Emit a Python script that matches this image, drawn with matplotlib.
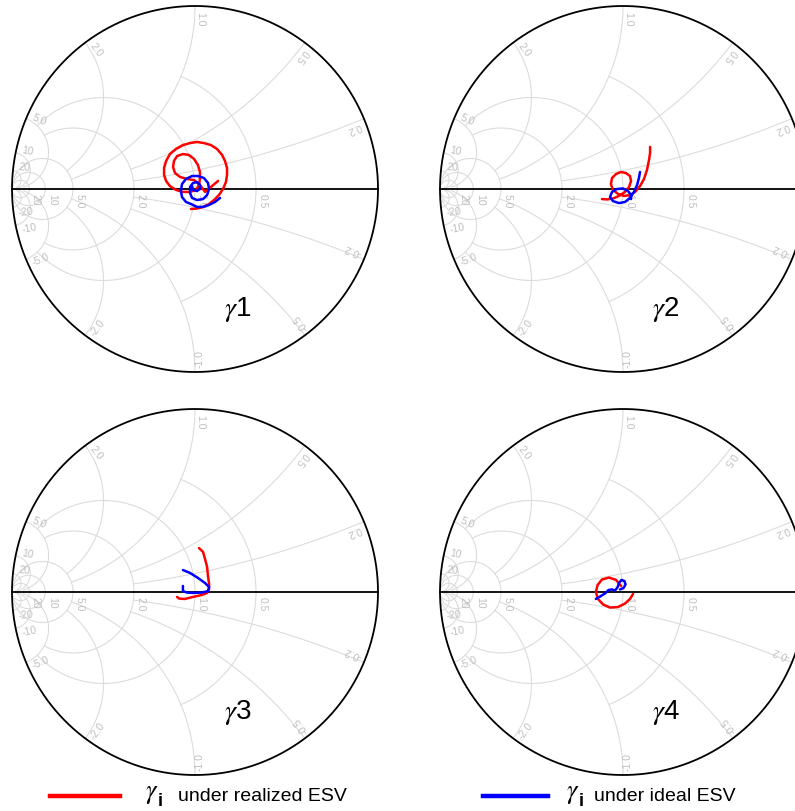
import numpy as np
import matplotlib
matplotlib.use("Agg")
import matplotlib.pyplot as plt
from matplotlib.lines import Line2D

plt.rcParams["font.family"] = ["Liberation Sans", "DejaVu Sans"]
plt.rcParams["mathtext.fontset"] = "stix"

# ---- Smith chart grid (normalised admittance values) ----
circle_values = [0.5, 1.0, 2.0, 5.0, 10.0, 20.0]
circle_limits = [1.0, 5.0, 5.0, 30.0, np.inf, np.inf]
arc_values = [0.2, 0.5, 1.0, 2.0, 5.0, 10.0, 20.0]
arc_limits = [2.0, 2.0, 5.0, 5.0, 30.0, np.inf, np.inf]

panel_titles = ["1", "2", "3", "4"]

# ---- reflection-coefficient trajectories (Re, Im) ----
realized_re = [
    [-0.022, 0.011, 0.044, 0.077, 0.104, 0.131, 0.153, 0.169, 0.175, 0.175, 0.164, 0.148,
     0.120, 0.087, 0.049, 0.011, -0.027, -0.066, -0.104, -0.137, -0.158, -0.169, -0.169,
     -0.158, -0.137, -0.104, -0.066, -0.027, 0.005, 0.022, 0.027, 0.027, 0.016, -0.005,
     -0.033, -0.066, -0.098, -0.115, -0.120, -0.109, -0.082, -0.044, -0.005, 0.027, 0.055,
     0.087, 0.126],
    [-0.115, -0.087, -0.055, -0.022, 0.011, 0.033, 0.044, 0.038, 0.016, -0.011, -0.038,
     -0.060, -0.066, -0.055, -0.027, 0.005, 0.038, 0.066, 0.093, 0.115, 0.131, 0.142,
     0.148, 0.148],
    [0.022, 0.044, 0.055, 0.066, 0.071, 0.077, 0.077, 0.066, 0.038, -0.011, -0.055, -0.087,
     -0.098],
    [-0.011, -0.038, -0.077, -0.115, -0.139, -0.148, -0.137, -0.109, -0.071, -0.027, 0.011,
     0.038, 0.055],
]
realized_im = [
    [-0.109, -0.107, -0.098, -0.082, -0.060, -0.033, 0.000, 0.038, 0.077, 0.115, 0.153, 0.186,
     0.219, 0.240, 0.251, 0.257, 0.251, 0.240, 0.219, 0.191, 0.153, 0.115, 0.077,
     0.044, 0.016, -0.005, -0.016, -0.016, -0.005, 0.022, 0.055, 0.093, 0.131, 0.164,
     0.186, 0.191, 0.180, 0.153, 0.120, 0.087, 0.066, 0.055, 0.049, 0.022, -0.016,
     0.011, 0.044],
    [-0.055, -0.057, -0.052, -0.038, -0.016, 0.011, 0.044, 0.071, 0.087, 0.093, 0.082,
     0.060, 0.027, -0.005, -0.027, -0.038, -0.033, -0.016, 0.016, 0.055, 0.104, 0.158,
     0.197, 0.230],
    [0.240, 0.219, 0.180, 0.137, 0.087, 0.044, 0.016, -0.005, -0.016, -0.027, -0.038, -0.036,
     -0.027],
    [0.033, 0.066, 0.079, 0.068, 0.038, 0.000, -0.038, -0.068, -0.085, -0.082, -0.063,
     -0.038, -0.011],
]
ideal_re = [
    [0.137, 0.109, 0.077, 0.044, 0.011, -0.022, -0.049, -0.071, -0.077, -0.071, -0.049,
     -0.016, 0.016, 0.049, 0.071, 0.077, 0.066, 0.044, 0.011, -0.016, -0.027, -0.027,
     -0.011, 0.011, 0.027, 0.027, 0.011, -0.011, -0.016],
    [0.093, 0.087, 0.077, 0.060, 0.038, 0.011, -0.022, -0.055, -0.071, -0.060, -0.033,
     0.000, 0.027, 0.044, 0.044],
    [-0.066, -0.027, 0.016, 0.055, 0.077, 0.071, 0.038, -0.011, -0.044, -0.066, -0.066,
     -0.066],
    [-0.148, -0.126, -0.098, -0.079, -0.060, -0.044, -0.030, -0.022, -0.008, 0.008, 0.014,
     0.003, -0.016],
]
ideal_im = [
    [-0.049, -0.071, -0.087, -0.098, -0.098, -0.082, -0.071, -0.044, -0.011, 0.027, 0.055,
     0.071, 0.071, 0.060, 0.033, 0.000, -0.033, -0.055, -0.060, -0.049, -0.022, 0.011,
     0.033, 0.038, 0.022, 0.000, -0.011, -0.005, 0.016],
    [0.093, 0.060, 0.022, -0.016, -0.049, -0.071, -0.077, -0.066, -0.044, -0.016, 0.000,
     0.003, -0.011, -0.033, -0.055],
    [0.120, 0.104, 0.077, 0.049, 0.027, 0.005, -0.003, -0.005, -0.003, 0.005, 0.022,
     0.033],
    [-0.038, -0.025, -0.008, 0.011, 0.014, 0.008, 0.025, 0.049, 0.066, 0.060, 0.041,
     0.022, 0.014],
]

legend_texts = ["under realized ESV", "under ideal ESV"]

RED = "#ff0000"
BLUE = "#0000ff"
GRID = "#dcdcdc"
LABEL = "#bfbfbf"

W, H = 795, 812
fig = plt.figure(figsize=(W / 100, H / 100), dpi=100)

centers = [(195, 190), (623, 190), (195, 593), (623, 593)]
RADIUS = 183
HALF = 192


def to_plane(z):
    g = (z - 1) / (z + 1)
    return -g.real, g.imag


def fmt(val):
    return f"{val:.1f}" if abs(val) < 10 else f"{val:.0f}"


def draw_grid(ax):
    for val, lim in zip(circle_values, circle_limits):
        a = np.arctan(lim) if np.isfinite(lim) else np.pi / 2 * 0.9995
        xs = np.tan(np.linspace(-a, a, 800))
        u, v = to_plane(val + 1j * xs)
        ax.plot(u, v, color=GRID, lw=0.8, zorder=1)
        u0, _ = to_plane(np.array(val + 0j))
        ax.text(float(u0) + 0.008, -0.022, fmt(val), rotation=-90, rotation_mode="anchor",
                ha="left", va="bottom", fontsize=7.5, color=LABEL, zorder=2)
    for val, lim in zip(arc_values, arc_limits):
        a = np.arctan(lim) if np.isfinite(lim) else np.pi / 2 * 0.9995
        rs = np.tan(np.linspace(0, a, 800))
        for s in (1, -1):
            u, v = to_plane(rs + 1j * s * val)
            ax.plot(u, v, color=GRID, lw=0.8, zorder=1)
            pu, pv = to_plane(np.array(1j * s * val))
            th = np.degrees(np.arctan2(pv, pu))
            rot = th + 180
            if rot > 180:
                rot -= 360
            ax.text(float(pu) * 0.972, float(pv) * 0.972, fmt(s * val), rotation=rot,
                    rotation_mode="anchor", ha="left", va="bottom" if s > 0 else "top",
                    fontsize=7.5, color=LABEL, zorder=2)
    t = np.linspace(0, 2 * np.pi, 720)
    ax.plot(np.cos(t), np.sin(t), color="black", lw=1.3, zorder=3)
    ax.plot([-1, 1], [0, 0], color="black", lw=1.3, zorder=3)


for k, (cx, cy) in enumerate(centers):
    ax = fig.add_axes([(cx - HALF) / W, (H - cy - HALF) / H, 2 * HALF / W, 2 * HALF / H])
    lim = HALF / RADIUS
    ax.set_xlim(-lim, lim)
    ax.set_ylim(-lim, lim)
    ax.set_aspect("equal")
    ax.axis("off")
    draw_grid(ax)
    ax.plot(realized_re[k], realized_im[k], color=RED, lw=1.8, zorder=4,
            solid_joinstyle="round", solid_capstyle="round")
    ax.plot(ideal_re[k], ideal_im[k], color=BLUE, lw=1.8, zorder=5,
            solid_joinstyle="round", solid_capstyle="round")
    ax.text(0.235, -0.655, r"$\gamma$" + panel_titles[k], fontsize=20, ha="center",
            va="center", zorder=6)

# legend row: coloured key line, gamma symbol with bold sans subscript, description
ly = (H - 797) / H
for (x0, x1, xs, xt, color, text) in [
    (50, 120, 145, 178, RED, legend_texts[0]),
    (483, 548, 566, 594, BLUE, legend_texts[1]),
]:
    fig.add_artist(Line2D([x0 / W, x1 / W], [ly, ly], color=color, lw=3.2))
    fig.text(xs / W, ly + 3 / H, r"$\gamma$", fontsize=19, ha="left", va="center")
    fig.text((xs + 13) / W, ly - 5 / H, "i", fontsize=13, fontweight="bold",
             ha="left", va="center")
    fig.text(xt / W, ly, text, fontsize=14, ha="left", va="center")

fig.savefig("out.png", dpi=100)
